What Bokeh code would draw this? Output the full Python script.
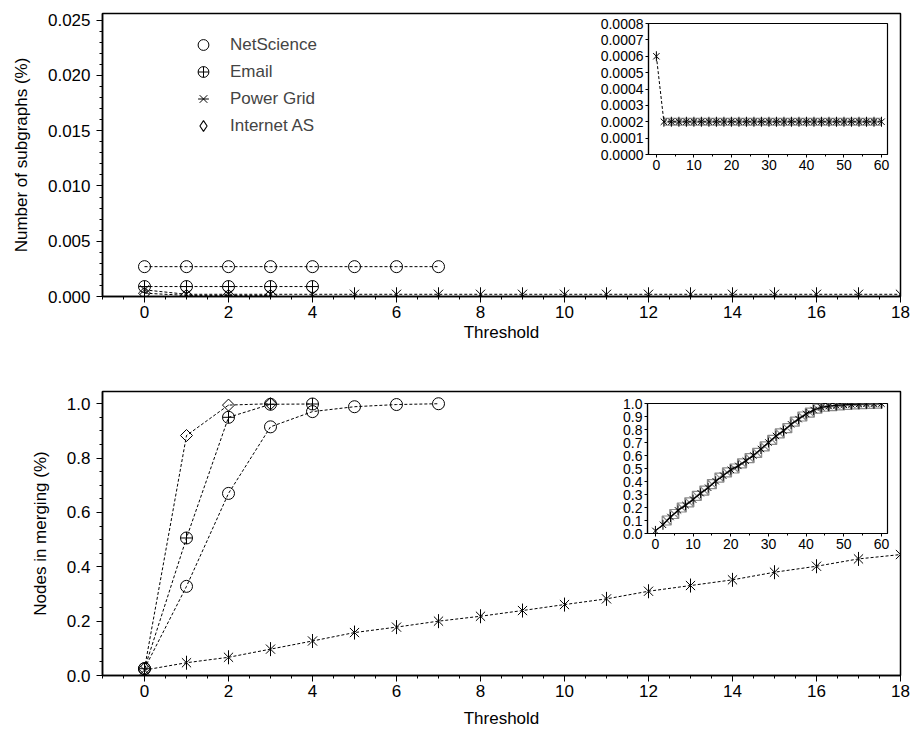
import math
from bokeh.plotting import figure
from bokeh.models import (GridBox, Range1d, SingleIntervalTicker, NumeralTickFormatter,
                          Legend, LegendItem)
from bokeh.embed import file_html
from bokeh.resources import INLINE

FONT = "Liberation Sans"

# ---------------- data ----------------
ns_x = [0, 1, 2, 3, 4, 5, 6, 7]
em_x = [0, 1, 2, 3, 4]
pg_x = [0, 1, 2, 3, 4, 5, 6, 7, 8, 9, 10, 11, 12, 13, 14, 15, 16, 17, 18]
ia_x = [0, 1, 2, 3]

ns_sub = [0.0027, 0.0027, 0.0027, 0.0027, 0.0027, 0.0027, 0.0027, 0.0027]
em_sub = [0.0009, 0.0009, 0.0009, 0.0009, 0.0009]
pg_sub = [0.0006, 0.0002, 0.0002, 0.0002, 0.0002, 0.0002, 0.0002, 0.0002, 0.0002, 0.0002,
          0.0002, 0.0002, 0.0002, 0.0002, 0.0002, 0.0002, 0.0002, 0.0002, 0.0002]
ia_sub = [0.0003, 0.0001, 0.0001, 0.0001]

ns_merge = [0.025, 0.328, 0.670, 0.915, 0.971, 0.989, 0.997, 1.0]
em_merge = [0.025, 0.506, 0.950, 0.998, 0.999]
pg_merge = [0.020, 0.047, 0.067, 0.097, 0.127, 0.158, 0.178, 0.200, 0.218, 0.239,
            0.261, 0.282, 0.310, 0.331, 0.352, 0.380, 0.402, 0.429, 0.445]
ia_merge = [0.025, 0.883, 0.995, 1.0]

# inset series (Power Grid, long threshold range)
in_even_x = [0, 2, 4, 6, 8, 10, 12, 14, 16, 18, 20, 22, 24, 26, 28, 30,
             32, 34, 36, 38, 40, 42, 44, 46, 48, 50, 52, 54, 56, 58, 60]
in_odd_x = [3, 5, 7, 9, 11, 13, 15, 17, 19, 21, 23, 25, 27, 29, 31,
            33, 35, 37, 39, 41, 43, 45, 47, 49, 51, 53, 55, 57, 59]
in_sub_even = [0.0006, 0.0002, 0.0002, 0.0002, 0.0002, 0.0002, 0.0002, 0.0002, 0.0002, 0.0002,
               0.0002, 0.0002, 0.0002, 0.0002, 0.0002, 0.0002, 0.0002, 0.0002, 0.0002, 0.0002,
               0.0002, 0.0002, 0.0002, 0.0002, 0.0002, 0.0002, 0.0002, 0.0002, 0.0002, 0.0002,
               0.0002]
in_sub_odd = [0.0002, 0.0002, 0.0002, 0.0002, 0.0002, 0.0002, 0.0002, 0.0002, 0.0002, 0.0002,
              0.0002, 0.0002, 0.0002, 0.0002, 0.0002, 0.0002, 0.0002, 0.0002, 0.0002, 0.0002,
              0.0002, 0.0002, 0.0002, 0.0002, 0.0002, 0.0002, 0.0002, 0.0002, 0.0002]
in_merge_even = [0.020, 0.067, 0.127, 0.178, 0.218, 0.261, 0.310, 0.352, 0.402, 0.445,
                 0.490, 0.520, 0.560, 0.600, 0.650, 0.700, 0.750, 0.790, 0.840, 0.880,
                 0.920, 0.950, 0.970, 0.980, 0.985, 0.990, 0.993, 0.995, 0.997, 0.998, 0.999]
in_merge_odd = [0.100, 0.150, 0.200, 0.240, 0.290, 0.330, 0.380, 0.430, 0.470, 0.500,
                0.540, 0.580, 0.620, 0.670, 0.720, 0.770, 0.810, 0.860, 0.900, 0.930,
                0.960, 0.975, 0.980, 0.985, 0.990, 0.993, 0.995, 0.997, 0.999]

labels = ["NetScience", "Email", "Power Grid", "Internet AS"]
x_label = "Threshold"
y_label_top = "Number of subgraphs (%)"
y_label_bot = "Nodes in merging (%)"

DASH = "3 2"


def style_axes(p, tick_size, label_size, tick_out, minor_out):
    p.xgrid.visible = False
    p.ygrid.visible = False
    p.outline_line_color = "black"
    p.outline_line_width = 1.5
    for ax in (p.xaxis[0], p.yaxis[0]):
        ax.axis_line_color = "black"
        ax.axis_line_width = 1.5
        ax.major_tick_line_color = "black"
        ax.minor_tick_line_color = "black"
        ax.major_tick_in = 0
        ax.minor_tick_in = 0
        ax.major_tick_out = tick_out
        ax.minor_tick_out = minor_out
        ax.major_label_text_font = FONT
        ax.major_label_text_font_size = tick_size
        ax.major_label_text_color = "black"
        ax.axis_label_text_font = FONT
        ax.axis_label_text_font_size = label_size
        ax.axis_label_text_font_style = "normal"
        ax.axis_label_text_color = "black"


def add_series(p, xs, ys, kind):
    p.line(xs, ys, line_color="black", line_width=1, line_dash=DASH)
    rs = []
    if kind == "circle":
        rs.append(p.scatter(xs, ys, marker="circle", size=12, fill_color=None,
                            line_color="black", line_width=1))
    elif kind == "circle_cross":
        rs.append(p.scatter(xs, ys, marker="circle_cross", size=12, fill_color=None,
                            line_color="black", line_width=1))
    elif kind == "star":
        rs.append(p.scatter(xs, ys, marker="x", size=13, line_color="black", line_width=1))
        rs.append(p.scatter(xs, ys, marker="dash", angle=math.pi / 2, size=14,
                            line_color="black", line_width=1))
    elif kind == "diamond":
        p.scatter(xs, ys, marker="square", angle=math.pi / 4, size=8.5,
                  fill_color=None, line_color="black", line_width=1)
        # legend glyph (the legend draws markers unrotated); invisible on the plot itself
        rs.append(p.scatter(xs, ys, marker="diamond", size=0.01, fill_color=None,
                            line_color="black", line_width=1.1))
    return rs


def main_fig(height, ymax, bt, bb, yint, yminor, yfmt, ylabel, xlab_standoff):
    p = figure(width=912, height=height, x_range=Range1d(-1, 18), y_range=Range1d(0, ymax),
               output_backend="svg", toolbar_location=None,
               min_border_left=102, min_border_right=12,
               min_border_top=bt, min_border_bottom=bb)
    style_axes(p, "17px", "17px", 6, 3)
    p.xaxis.ticker = SingleIntervalTicker(interval=2, num_minor_ticks=4)
    p.yaxis.ticker = SingleIntervalTicker(interval=yint, num_minor_ticks=yminor)
    p.yaxis.formatter = NumeralTickFormatter(format=yfmt)
    p.xaxis.axis_label = x_label
    p.yaxis.axis_label = ylabel
    p.xaxis.major_label_standoff = 3
    p.xaxis.axis_label_standoff = xlab_standoff
    p.yaxis.major_label_standoff = 6
    p.yaxis.axis_label_standoff = 14
    return p


def inset_fig(ymax, yint, yfmt, bt, bb, frame_w, frame_h, left_px, top_px):
    # grid cells share plot borders with the main panel, so the inset uses the same borders
    p = figure(width=102 + frame_w + 12, height=bt + frame_h + bb,
               x_range=Range1d(-2.1, 61.6), y_range=Range1d(0, ymax),
               output_backend="svg", toolbar_location=None,
               min_border_left=102, min_border_right=12, min_border_top=bt, min_border_bottom=bb,
               border_fill_color=None, background_fill_color="white",
               margin=(top_px - bt, 0, 0, left_px - 102))
    style_axes(p, "14px", "14px", 3, 2)
    p.outline_line_width = 1.2
    p.xaxis.axis_line_width = 1.2
    p.yaxis.axis_line_width = 1.2
    p.xaxis.ticker = SingleIntervalTicker(interval=10, num_minor_ticks=2)
    p.yaxis.ticker = SingleIntervalTicker(interval=yint, num_minor_ticks=0)
    p.yaxis.formatter = NumeralTickFormatter(format=yfmt)
    p.xaxis.major_label_standoff = 2
    p.yaxis.major_label_standoff = 2
    return p


# ---------------- top panel ----------------
p1 = main_fig(360, 0.0256, 13, 64, 0.005, 5, "0.000", y_label_top, 2)
r_ns = add_series(p1, ns_x, ns_sub, "circle")
r_em = add_series(p1, em_x, em_sub, "circle_cross")
r_pg = add_series(p1, pg_x, pg_sub, "star")
r_ia = add_series(p1, ia_x, ia_sub, "diamond")

legend = Legend(items=[LegendItem(label=labels[0], renderers=r_ns),
                       LegendItem(label=labels[1], renderers=r_em),
                       LegendItem(label=labels[2], renderers=r_pg),
                       LegendItem(label=labels[3], renderers=r_ia)],
                location=(86, 157), border_line_color=None, background_fill_alpha=0,
                label_text_font=FONT, label_text_font_size="17px",
                glyph_width=30, glyph_height=27, label_height=27, spacing=0,
                padding=0, margin=0, label_standoff=12)
p1.add_layout(legend)

# ---------------- bottom panel ----------------
p2 = main_fig(376, 1.045, 31, 61, 0.2, 4, "0.0", y_label_bot, 9)
add_series(p2, ns_x, ns_merge, "circle")
add_series(p2, em_x, em_merge, "circle_cross")
add_series(p2, pg_x, pg_merge, "star")
add_series(p2, ia_x, ia_merge, "diamond")

# ---------------- insets ----------------
i1 = inset_fig(0.0008, 0.0001, "0.0000", 13, 64, 239, 131, 648, 23)
i1.line(in_odd_x, in_sub_odd, line_color="#9a9a9a", line_width=2.5)
i1.scatter(in_odd_x, in_sub_odd, marker="square_x", size=7, fill_color=None,
           line_color="#8a8a8a", line_width=1)
i1.line(in_even_x, in_sub_even, line_color="black", line_width=1, line_dash=DASH)
i1.scatter(in_even_x, in_sub_even, marker="x", size=9, line_color="black", line_width=1)
i1.scatter(in_even_x, in_sub_even, marker="dash", angle=math.pi / 2, size=10,
           line_color="black", line_width=1)

i2 = inset_fig(1.0, 0.1, "0.0", 31, 61, 240, 130, 647, 43)
i2.line(in_odd_x, in_merge_odd, line_color="#9a9a9a", line_width=1.5)
i2.scatter(in_odd_x, in_merge_odd, marker="square_x", size=9, fill_color=None,
           line_color="#8a8a8a", line_width=1.2)
i2.line(in_even_x, in_merge_even, line_color="black", line_width=1.2)
i2.scatter(in_even_x, in_merge_even, marker="x", size=9, line_color="black", line_width=1)
i2.scatter(in_even_x, in_merge_even, marker="dash", angle=math.pi / 2, size=10,
           line_color="black", line_width=1)

grid = GridBox(children=[(p1, 0, 0), (i1, 0, 0), (p2, 1, 0), (i2, 1, 0)], spacing=0)

open("out.html", "w").write(file_html(grid, INLINE))
